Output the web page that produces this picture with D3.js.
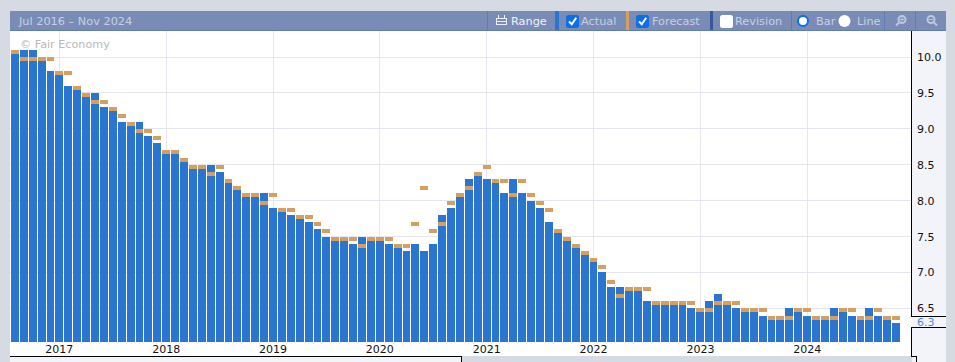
<!DOCTYPE html>
<html>
<head>
<meta charset="utf-8">
<script src="https://cdn.jsdelivr.net/npm/d3@7"></script>
<style>
html, body { margin: 0; padding: 0; background: #d6dae3; overflow: hidden; }
text { font-family: "DejaVu Sans", sans-serif; }
.tool { fill: #c6d0e3; font-size: 11.3px; }
.tool.on { fill: #eef1f7; }
.axis-label { fill: #111; font-size: 11px; }
</style>
</head>
<body>
<svg id="chart" width="955" height="362"></svg>
<script>
var years = [2017, 2018, 2019, 2020, 2021, 2022, 2023, 2024];
var yTicks = [6.5, 7.0, 7.5, 8.0, 8.5, 9.0, 9.5, 10.0];

var actual = [
    10.1, 10.1, 10.1, 10.0, 9.8, 9.8, 9.6, 9.6, 9.5, 9.5,
    9.3, 9.3, 9.1, 9.1, 9.1, 8.9, 8.8, 8.7, 8.7, 8.6,
    8.5, 8.5, 8.5, 8.4, 8.3, 8.2, 8.1, 8.1, 8.1, 7.9,
    7.9, 7.8, 7.8, 7.7, 7.6, 7.5, 7.5, 7.5, 7.4, 7.5,
    7.5, 7.5, 7.4, 7.4, 7.3, 7.4, 7.3, 7.4, 7.8, 7.9,
    8.1, 8.3, 8.4, 8.3, 8.3, 8.1, 8.3, 8.1, 8.0, 7.9,
    7.7, 7.6, 7.5, 7.4, 7.3, 7.2, 7.0, 6.8, 6.8, 6.8,
    6.8, 6.6, 6.6, 6.6, 6.6, 6.6, 6.5, 6.5, 6.6, 6.7,
    6.6, 6.5, 6.5, 6.5, 6.4, 6.4, 6.4, 6.5, 6.5, 6.4,
    6.4, 6.4, 6.5, 6.5, 6.4, 6.4, 6.5, 6.4, 6.4, 6.3
];
var forecast = [
    10.1, 10.0, 10.0, 10.0, 10.0, 9.8, 9.8, 9.6, 9.5, 9.4,
    9.4, 9.3, 9.2, 9.1, 9.0, 9.0, 8.9, 8.7, 8.7, 8.6,
    8.5, 8.5, 8.4, 8.5, 8.3, 8.2, 8.1, 8.1, 8.0, 8.1,
    7.9, 7.9, 7.8, 7.8, 7.7, 7.6, 7.5, 7.5, 7.5, 7.4,
    7.5, 7.5, 7.5, 7.4, 7.4, 7.7, 8.2, 7.6, 7.7, 8.0,
    8.1, 8.2, 8.4, 8.5, 8.3, 8.3, 8.1, 8.3, 8.1, 8.0,
    7.9, 7.6, 7.5, 7.4, 7.3, 7.2, 7.1, 6.9, 6.7, 6.8,
    6.8, 6.8, 6.6, 6.6, 6.6, 6.6, 6.6, 6.5, 6.5, 6.6,
    6.6, 6.6, 6.5, 6.5, 6.5, 6.4, 6.4, 6.4, 6.5, 6.5,
    6.4, 6.4, 6.4, 6.5, 6.5, 6.4, 6.4, 6.5, 6.4, 6.4
];

var svg = d3.select("#chart");

// plot panel, axis gutter and toolbar
svg.append("rect").attr("x", 10).attr("y", 31).attr("width", 902).attr("height", 325).attr("fill", "#fff");
svg.append("rect").attr("x", 912).attr("y", 31).attr("width", 34).attr("height", 331).attr("fill", "#f3f4f9");
svg.append("rect").attr("x", 10).attr("y", 357).attr("width", 452).attr("height", 5).attr("fill", "#f3f4f9");
svg.append("rect").attr("x", 10).attr("y", 11).attr("width", 936).attr("height", 19).attr("fill", "#7a8cb6");
svg.append("rect").attr("x", 10).attr("y", 30).attr("width", 936).attr("height", 1).attr("fill", "#5f7db5");

// one band per month, snapped to whole pixels so every gap stays 1px
var x = d3.scaleBand()
    .domain(d3.range(actual.length + 1))
    .range([11, 909.9])
    .paddingInner(0)
    .paddingOuter(0);

function barX(i) { return Math.round(x(i)); }
function barW(i) { return Math.round(x(i + 1)) - Math.round(x(i)) - 1; }

// gridlines sit on the first month of each year
var yearX = d3.scaleLinear().domain([2017, 2024]).range([59.3, 807.3]);

var y = d3.scaleLinear().domain([10, 6.5]).range([57, 308.4]);
function barY(v) { return Math.round(y(v)); }

var plot = svg.append("g").attr("shape-rendering", "crispEdges");

plot.selectAll("line.hgrid").data(yTicks).enter().append("line")
    .attr("class", "hgrid")
    .attr("x1", 10).attr("x2", 911)
    .attr("y1", function(d) { return y(d); })
    .attr("y2", function(d) { return y(d); })
    .attr("stroke", "#e6e6f0");

plot.selectAll("line.vgrid").data(years).enter().append("line")
    .attr("class", "vgrid")
    .attr("x1", function(d) { return yearX(d); })
    .attr("x2", function(d) { return yearX(d); })
    .attr("y1", 31).attr("y2", 342)
    .attr("stroke", "#e6e6f0");

svg.append("text")
    .attr("x", 20).attr("y", 48)
    .attr("fill", "#b9b9b9")
    .style("font-size", "11.2px")
    .text("© Fair Economy");

plot.selectAll("rect.actual").data(actual).enter().append("rect")
    .attr("class", "actual")
    .attr("x", function(d, i) { return barX(i); })
    .attr("width", function(d, i) { return barW(i); })
    .attr("y", function(d) { return barY(d); })
    .attr("height", function(d) { return 342 - barY(d); })
    .attr("fill", "#2a75cf");

plot.selectAll("rect.forecast").data(forecast).enter().append("rect")
    .attr("class", "forecast")
    .attr("x", function(d, i) { return barX(i); })
    .attr("width", function(d, i) { return barW(i); })
    .attr("y", function(d) { return barY(d); })
    .attr("height", 4)
    .attr("fill", "#d69e5f");

// x axis labels
svg.selectAll("text.xl").data(years).enter().append("text")
    .attr("class", "axis-label xl")
    .attr("x", function(d) { return yearX(d); })
    .attr("y", 353)
    .attr("text-anchor", "middle")
    .text(function(d) { return d; });

// y axis labels
svg.selectAll("text.yl").data(yTicks).enter().append("text")
    .attr("class", "axis-label yl")
    .attr("x", 917)
    .attr("y", function(d) { return y(d) + 4; })
    .text(function(d) { return d3.format(".1f")(d); });

// black frame lines, broken around the current value flag
var frame = [
    "M911.5,31V316.5H946",
    "M946,327.5H911.5V356.5H916.5V362",
    "M10,356.5H461.5V362"
];
svg.append("g").attr("shape-rendering", "crispEdges")
    .selectAll("path").data(frame).enter().append("path")
    .attr("d", function(d) { return d; })
    .attr("fill", "none")
    .attr("stroke", "#000");

svg.append("text")
    .attr("x", 917).attr("y", 326)
    .attr("fill", "#4a8bd8")
    .style("font-size", "11px")
    .text(d3.format(".1f")(actual[actual.length - 1]));

// toolbar text
var bar = svg.append("g");
bar.append("text").attr("x", 19).attr("y", 25).attr("class", "tool").text("Jul 2016 – Nov 2024");
bar.append("text").attr("x", 511).attr("y", 25).attr("class", "tool on").text("Range");
bar.append("text").attr("x", 581).attr("y", 25).attr("class", "tool").text("Actual");
bar.append("text").attr("x", 652).attr("y", 25).attr("class", "tool").text("Forecast");
bar.append("text").attr("x", 735).attr("y", 25).attr("class", "tool").text("Revision");
bar.append("text").attr("x", 816).attr("y", 25).attr("class", "tool").text("Bar");
bar.append("text").attr("x", 857).attr("y", 25).attr("class", "tool").text("Line");

// toolbar separators and series swatches
var seps = [
    {x: 487, w: 1, c: "#5f7db5"},
    {x: 555, w: 4, c: "#2a75cf"},
    {x: 626, w: 3, c: "#d69e5f"},
    {x: 710, w: 3, c: "#35599d"},
    {x: 791, w: 1, c: "#5f7db5"},
    {x: 884, w: 1, c: "#5f7db5"},
    {x: 915, w: 1, c: "#5f7db5"}
];
bar.selectAll("rect.sep").data(seps).enter().append("rect")
    .attr("class", "sep")
    .attr("x", function(d) { return d.x; })
    .attr("y", 11)
    .attr("width", function(d) { return d.w; })
    .attr("height", 19)
    .attr("fill", function(d) { return d.c; });

// calendar icon
var cal = bar.append("g").attr("stroke", "#eef1f7").attr("fill", "none").attr("shape-rendering", "crispEdges");
cal.append("rect").attr("x", 496.5).attr("y", 18.5).attr("width", 10).attr("height", 6);
cal.append("line").attr("x1", 496).attr("x2", 507).attr("y1", 21.5).attr("y2", 21.5);
cal.append("line").attr("x1", 498.5).attr("x2", 498.5).attr("y1", 15).attr("y2", 18);
cal.append("line").attr("x1", 504.5).attr("x2", 504.5).attr("y1", 15).attr("y2", 18);

// checkboxes
[[566, true], [636, true], [720, false]].forEach(function(c) {
    bar.append("rect").attr("x", c[0]).attr("y", 15).attr("width", 13).attr("height", 13).attr("rx", 2.5)
        .attr("fill", c[1] ? "#0b6fe8" : "#fff");
    if (c[1]) bar.append("path")
        .attr("d", "M" + (c[0] + 3) + ",21.5l2.8,2.8l4.4,-6.5")
        .attr("fill", "none").attr("stroke", "#fff").attr("stroke-width", 2);
});

// radios
bar.append("circle").attr("cx", 803).attr("cy", 21).attr("r", 5).attr("fill", "#fff").attr("stroke", "#0b6fe8").attr("stroke-width", 2);
bar.append("circle").attr("cx", 844.5).attr("cy", 21).attr("r", 6).attr("fill", "#fff");

// zoom icons
[[902, true], [931, false]].forEach(function(m) {
    var g = bar.append("g").attr("stroke", "#bcc8dd").attr("fill", "none").attr("stroke-width", 2);
    g.append("circle").attr("cx", m[0]).attr("cy", 19.5).attr("r", 3.5);
    g.append("line").attr("x1", m[0] + (m[1] ? -3 : 3)).attr("x2", m[0] + (m[1] ? -6 : 6)).attr("y1", 22.5).attr("y2", 25.5);
    g.append("line").attr("x1", m[0] - 2).attr("x2", m[0] + 2).attr("y1", 19.5).attr("y2", 19.5).attr("stroke-width", 1);
    if (m[1]) g.append("line").attr("x1", m[0]).attr("x2", m[0]).attr("y1", 17.5).attr("y2", 21.5).attr("stroke-width", 1);
});
</script>
</body>
</html>
